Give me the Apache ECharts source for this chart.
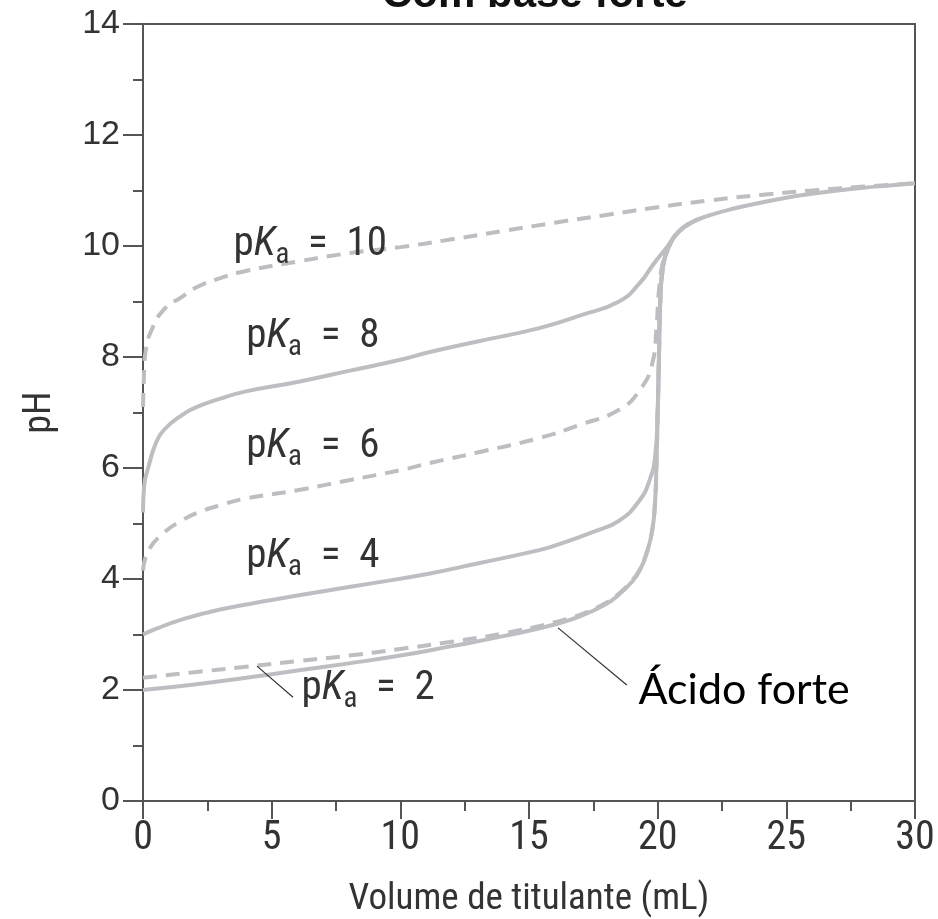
<html lang="pt">
<head>
    <meta http-equiv="Content-Type" content="text/html; charset=UTF-8">
    <script type="text/javascript" src="https://cdn.jsdelivr.net/npm/echarts@6/dist/echarts.min.js"></script>
    <style>
        body { margin: 0; background: #fff; }
    </style>
</head>
<body>
<div id="main" style="height:919px;width:938px;"></div>
<script type="text/javascript">
    // valores: [volume (mL), pH]
    var acidoForte = [[0, 2.0], [2, 2.1], [4, 2.22], [6, 2.35], [8, 2.48], [10, 2.62], [12, 2.79], [14, 2.97],
        [16, 3.18], [17, 3.33], [18, 3.55], [18.5, 3.72], [19, 3.95], [19.3, 4.15], [19.6, 4.5], [19.8, 4.9],
        [19.9, 5.4], [19.95, 6.0], [20.0, 7.0], [20.05, 8.0], [20.1, 9.0], [20.2, 9.6], [20.4, 9.95], [20.8, 10.25],
        [21.3, 10.42], [22, 10.55], [23, 10.68], [24, 10.78], [25, 10.87], [26, 10.94], [27, 11.0], [28, 11.05],
        [29, 11.09], [30, 11.13]];
    var pKa2 = [[0, 2.22], [2, 2.32], [4, 2.42], [6, 2.52], [8, 2.62], [10, 2.74], [12, 2.87], [14, 3.02],
        [16, 3.22], [17, 3.36], [18, 3.57], [18.5, 3.74], [19, 3.97], [19.3, 4.17], [19.6, 4.52], [19.8, 4.92],
        [19.9, 5.42], [19.95, 6.0], [20.0, 7.0], [20.05, 8.0], [20.1, 9.0], [20.2, 9.6], [20.4, 9.95], [20.8, 10.25],
        [21.3, 10.42], [22, 10.55]];
    var pKa4 = [[0, 3.0], [0.5, 3.1], [1.44, 3.26], [3, 3.45], [5, 3.62], [7, 3.78], [9, 3.93], [11.15, 4.1],
        [13, 4.28], [15.4, 4.52], [16, 4.6], [17.5, 4.85], [18.5, 5.05], [19.3, 5.42], [19.7, 5.8], [19.9, 6.2],
        [20.0, 7.0], [20.05, 8.0], [20.1, 9.0], [20.2, 9.6], [20.4, 9.95], [20.8, 10.25], [21.3, 10.42]];
    var pKa6 = [[0, 4.15], [0.2, 4.5], [0.8, 4.83], [1.5, 5.05], [2.1, 5.19], [3, 5.33], [4, 5.45], [6, 5.6],
        [8, 5.78], [10, 5.96], [11.15, 6.09], [13, 6.28], [15.4, 6.54], [17, 6.78], [18.5, 7.05], [19.3, 7.4],
        [19.8, 7.9], [19.95, 8.5], [20.05, 9.2], [20.2, 9.7], [20.4, 9.95], [20.8, 10.25], [21.3, 10.42]];
    var pKa8 = [[0, 5.2], [0.05, 5.7], [0.2, 6.0], [0.5, 6.45], [0.8, 6.68], [1.5, 6.95], [2.1, 7.1], [3, 7.25],
        [4, 7.38], [6, 7.55], [8, 7.75], [10, 7.95], [11.15, 8.09], [13, 8.28], [15.4, 8.52], [17, 8.75],
        [18.5, 9.0], [19.3, 9.33], [19.8, 9.65], [20.36, 9.98], [20.8, 10.25], [21.3, 10.42]];
    var pKa10 = [[0, 7.1], [0.05, 7.8], [0.1, 8.1], [0.3, 8.45], [0.8, 8.85], [1.5, 9.08], [2.1, 9.26], [3, 9.42],
        [4, 9.55], [6, 9.72], [8, 9.87], [10, 9.98], [12, 10.12], [14, 10.27], [16, 10.42], [18, 10.56],
        [20, 10.7], [22, 10.82], [24, 10.92], [26, 11.0], [28, 11.07], [30, 11.13]];

    // rótulos: [texto, x, y]
    var rotulosPKa = [['10', 6.5, 10.02], ['8', 6.6, 8.36], ['6', 6.6, 6.38], ['4', 6.6, 4.4], ['2', 8.75, 2.02]];
    var rotuloForte = ['Ácido forte', 23.36, 2.0];
    var linhaPKa2 = [[4.43, 2.43], [5.83, 1.87]];
    var linhaForte = [[16.13, 3.12], [18.8, 2.09]];

    var cinza = '#bdbec2';
    var fonteNum = '"Roboto Condensed", "Liberation Sans Narrow", "DejaVu Sans Condensed", sans-serif';

    function curva(nome, dados, tracejado) {
        return {
            name: nome,
            type: 'line',
            data: dados,
            showSymbol: false,
            smooth: 0.5,
            lineStyle: {color: cinza, width: 4, type: tracejado ? [14, 9] : 'solid'},
            z: tracejado ? 2 : 3
        };
    }

    var myChart = echarts.init(document.getElementById('main'));

    var marcas = rotulosPKa.map(function (r) {
        return {
            coord: [r[1], r[2]],
            label: {
                show: true,
                position: 'inside',
                formatter: '{p|p}{k|K}{a|a}{p|  =  ' + r[0] + '}',
                rich: {
                    p: {fontSize: 41, color: '#333', fontFamily: fonteNum},
                    k: {fontSize: 41, color: '#333', fontStyle: 'italic', fontFamily: fonteNum},
                    a: {fontSize: 29, color: '#333', fontFamily: fonteNum, padding: [22, 0, 0, 0]}
                }
            }
        };
    });
    marcas.push({
        coord: [rotuloForte[1], rotuloForte[2]],
        label: {
            show: true, position: 'inside', formatter: rotuloForte[0],
            fontSize: 43, color: '#000', fontFamily: 'Lato, "Open Sans", sans-serif'
        }
    });

    var series = [
        curva('pKa = 10', pKa10, true),
        curva('pKa = 8', pKa8, false),
        curva('pKa = 6', pKa6, true),
        curva('pKa = 4', pKa4, false),
        curva('pKa = 2', pKa2, true),
        curva('Ácido forte', acidoForte, false)
    ];
    series[5].markPoint = {symbol: 'circle', symbolSize: 0, data: marcas, silent: true};
    series[5].markLine = {
        silent: true, symbol: 'none',
        lineStyle: {color: '#333', width: 1.2, type: 'solid'},
        label: {show: false},
        data: [
            [{coord: linhaPKa2[0]}, {coord: linhaPKa2[1]}],
            [{coord: linhaForte[0]}, {coord: linhaForte[1]}]
        ]
    };

    var option = {
        animation: false,
        backgroundColor: '#fff',
        title: {
            text: 'Com base forte',
            left: 377,
            top: -31,
            textStyle: {fontSize: 42, fontWeight: 'bold', color: '#111', fontFamily: 'Liberation Sans, sans-serif'}
        },
        grid: {
            left: 143, right: 23, top: 24, bottom: 118,
            outerBoundsMode: 'none',
            show: true, borderColor: '#555', borderWidth: 2
        },
        xAxis: {
            type: 'value', min: 0, max: 30, interval: 5,
            name: 'Volume de titulante (mL)', nameLocation: 'middle', nameGap: 80,
            nameTextStyle: {fontSize: 37, color: '#333', fontFamily: fonteNum},
            axisLine: {lineStyle: {color: '#555', width: 2}},
            axisTick: {length: 18, lineStyle: {color: '#555', width: 2}},
            minorTick: {show: true, splitNumber: 2, length: 10, lineStyle: {color: '#555', width: 2}},
            axisLabel: {margin: 18, fontSize: 40, color: '#333', fontFamily: fonteNum},
            splitLine: {show: false}
        },
        yAxis: {
            type: 'value', min: 0, max: 14, interval: 2,
            name: 'pH', nameLocation: 'middle', nameGap: 84,
            nameTextStyle: {fontSize: 38, color: '#333', fontFamily: fonteNum},
            axisLine: {lineStyle: {color: '#555', width: 2}},
            axisTick: {length: 20, lineStyle: {color: '#555', width: 2}},
            minorTick: {show: true, splitNumber: 2, length: 10, lineStyle: {color: '#555', width: 2}},
            axisLabel: {margin: 23, fontSize: 34, color: '#333', fontFamily: 'Liberation Sans, sans-serif'},
            splitLine: {show: false}
        },
        series: series
    };

    myChart.setOption(option);
</script>
</body>
</html>
